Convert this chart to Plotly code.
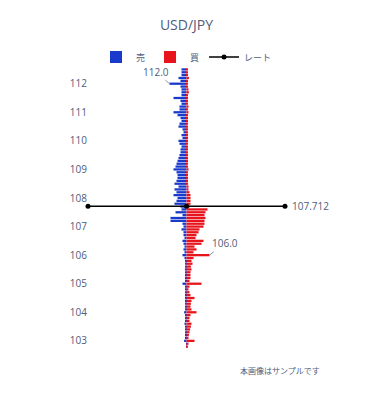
import plotly.graph_objects as go

# price levels (top to bottom)
prices = [round(112.5 - 0.1 * i, 1) for i in range(98)]

# sell orders (%), shown to the left
sell = [
    0.25, 0.25, 0.25, 0.40, 0.30, 0.85, 0.30, 0.25, 0.25, 0.25,
    0.65, 0.30, 0.25, 0.35, 0.35, 0.65, 0.45, 0.30, 0.25, 0.35,
    0.40, 0.20, 0.15, 0.25, 0.20, 0.40, 0.35, 0.25, 0.30, 0.30,
    0.35, 0.40, 0.45, 0.50, 0.55, 0.65, 0.50, 0.45, 0.45, 0.50,
    0.60, 0.40, 0.60, 0.50, 0.65, 0.45, 0.50, 0.60, 0.30, 0.25,
    0.55, 0.20, 0.80, 0.80, 0.20, 0.15, 0.25, 0.15, 0.15, 0.10,
    0.20, 0.15, 0.10, 0.15, 0.10, 0.20, 0.10, 0.06, 0.06, 0.03,
    0.08, 0.03, 0.03, 0.03, 0.03, 0.20, 0.03, 0.03, 0.03, 0.03,
    0.03, 0.03, 0.03, 0.03, 0.03, 0.12, 0.03, 0.03, 0.03, 0.10,
    0.03, 0.03, 0.03, 0.03, 0.03, 0.12, 0.02, 0.02,
]

# buy orders (%), shown to the right
buy = [
    0.03, 0.03, 0.03, 0.12, 0.03, 0.03, 0.03, 0.10, 0.12, 0.03,
    0.03, 0.03, 0.03, 0.10, 0.03, 0.10, 0.03, 0.03, 0.03, 0.03,
    0.03, 0.03, 0.03, 0.03, 0.03, 0.03, 0.03, 0.03, 0.03, 0.03,
    0.03, 0.03, 0.03, 0.03, 0.03, 0.10, 0.03, 0.03, 0.03, 0.03,
    0.08, 0.10, 0.10, 0.15, 0.20, 0.20, 0.20, 0.20, 0.15, 1.05,
    0.95, 0.90, 0.95, 0.90, 0.90, 0.85, 0.65, 0.60, 0.50, 0.45,
    0.85, 0.75, 0.40, 0.50, 0.35, 1.15, 0.35, 0.25, 0.30, 0.22,
    0.25, 0.20, 0.20, 0.20, 0.15, 0.75, 0.15, 0.10, 0.15, 0.20,
    0.40, 0.25, 0.22, 0.20, 0.25, 0.50, 0.20, 0.15, 0.15, 0.25,
    0.22, 0.18, 0.15, 0.12, 0.10, 0.40, 0.10, 0.05,
]

rate = 107.712
x_extent = 4.925
y_ticks = [103, 104, 105, 106, 107, 108, 109, 110, 111, 112]
callouts = [112.0, 106.0]

BLUE = "#1a3acb"
RED = "#e8141c"
TXT = "#4f5d7a"
FONT = "Open Sans, Noto Sans CJK JP, sans-serif"

fig = go.Figure()
fig.add_trace(go.Bar(
    y=prices, x=[-v for v in sell], orientation="h", name="売",
    marker=dict(color=BLUE, line=dict(width=0)),
))
fig.add_trace(go.Bar(
    y=prices, x=buy, orientation="h", name="買",
    marker=dict(color=RED, line=dict(width=0)),
))
fig.add_trace(go.Scatter(
    x=[-x_extent, 0, x_extent], y=[rate, rate, rate], mode="lines+markers",
    name="レート", line=dict(color="black", width=1.5),
    marker=dict(color="black", size=5), cliponaxis=False,
))

annotations = [
    dict(x=x_extent, y=rate, xref="x", yref="y", text=f"{rate:.3f}",
         showarrow=False, xanchor="left", xshift=5,
         font=dict(size=10, color=TXT)),
    dict(x=-sell[prices.index(callouts[0])], y=callouts[0], xref="x", yref="y",
         text=f"{callouts[0]:.1f}", showarrow=True, arrowhead=0, arrowwidth=1,
         arrowcolor="#8a93a6", ax=-14, ay=-12, font=dict(size=10, color=TXT)),
    dict(x=buy[prices.index(callouts[1])], y=callouts[1], xref="x", yref="y",
         text=f"{callouts[1]:.1f}", showarrow=True, arrowhead=0, arrowwidth=1,
         arrowcolor="#8a93a6", ax=15, ay=-12, font=dict(size=10, color=TXT)),
    dict(x=1.188, y=-0.079, xref="paper", yref="paper", text="本画像はサンプルです",
         showarrow=False, xanchor="right", yanchor="middle",
         font=dict(size=8, color=TXT)),
]

fig.update_layout(
    width=383, height=400,
    margin=dict(l=88, r=98, t=68, b=52),
    barmode="overlay", bargap=0.2,
    paper_bgcolor="white", plot_bgcolor="white",
    font=dict(family=FONT, color=TXT, size=10),
    title=dict(text="USD/JPY", x=0.5, xref="paper", y=0.937, yanchor="middle",
               font=dict(size=14, color=TXT)),
    legend=dict(orientation="h", x=0.5, xanchor="center", y=1.039, yanchor="middle",
                font=dict(size=9, color=TXT), bgcolor="rgba(0,0,0,0)",
                itemwidth=30),
    annotations=annotations,
    showlegend=True,
)
fig.update_xaxes(range=[-x_extent, x_extent], visible=False, fixedrange=True)
fig.update_yaxes(range=[102.75, 112.55], tickvals=y_ticks, ticktext=[str(t) for t in y_ticks],
                 showgrid=False, zeroline=False, showline=False, ticks="",
                 tickfont=dict(size=10, color=TXT))

fig.write_html("out.html")
